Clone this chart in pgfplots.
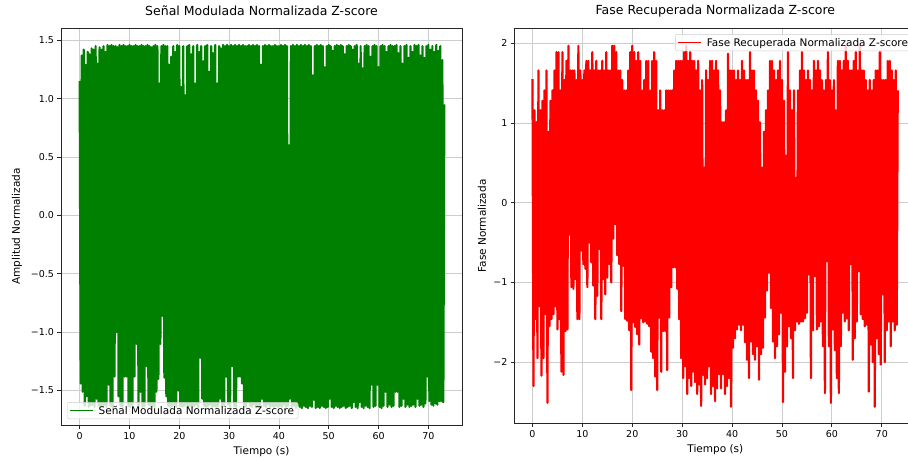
\documentclass[border=0pt]{standalone}
\usepackage{fontspec}
\setmainfont{DejaVu Sans}
\usepackage{pgfplots}
\pgfplotsset{compat=1.18}
\definecolor{mplgreen}{RGB}{0,128,0}
\definecolor{mplred}{RGB}{255,0,0}
\definecolor{gridgray}{RGB}{205,205,205}
\pgfplotsset{
  sigaxis/.style={
    scale only axis,
    anchor=south west,
    tick pos=left,
    tick align=outside,
    major tick length=3.5pt,
    grid=major,
    major grid style={gridgray, line width=0.8pt},
    axis line style={black!85, line width=0.8pt},
    tick style={black!85, line width=0.8pt},
    ticklabel style={font=\fontsize{9.5}{11}\selectfont},
    label style={font=\fontsize{10.5}{12}\selectfont},
    title style={font=\fontsize{12.5}{14}\selectfont, at={(axis description cs:0.5,1.029)}, anchor=center},
    xlabel style={at={(axis description cs:0.5,-0.067)}, anchor=center},
    xtick={0,10,20,30,40,50,60,70},
    xticklabels={0,10,20,30,40,50,60,70},
    legend style={font=\fontsize{10.5}{12}\selectfont, draw=black!20, fill=white,
      fill opacity=0.8, text opacity=1, draw opacity=1, rounded corners=2pt,
      inner xsep=2pt, inner ysep=1pt, cells={anchor=west}},
    legend image code/.code={\draw[#1, line width=1.5pt] (0pt,0pt) -- (23pt,0pt);},
  },
}
\newcommand{\legstrut}{\rule[-4pt]{0pt}{13pt}\hspace{3pt}}

\begin{document}
\begin{tikzpicture}
\fill[white] (0,0) rectangle (908pt,459pt);
\begin{scope}
\clip (0,0) rectangle (908pt,459pt);

% left: modulated signal
\begin{axis}[sigaxis,
  at={(61pt,34pt)}, width=401pt, height=397pt,
  xmin=-3.75, xmax=76.75, ymin=-1.795, ymax=1.605,
  ytick={-1.5,-1,-0.5,0,0.5,1,1.5},
  yticklabels={−1.5,−1.0,−0.5,0.0,0.5,1.0,1.5},
  title={Señal Modulada Normalizada Z-score},
  xlabel={Tiempo (s)},
  ylabel={Amplitud Normalizada},
  ylabel style={at={(axis description cs:-0.110,0.5)}, anchor=center},
  legend style={at={(axis description cs:0.015,0.015)}, anchor=south west},
]
\addplot[mplgreen, line width=2.2pt, line join=round, no markers] coordinates {
(0,1.15)(0.2,-1.44)(0.4,1.37)(0.6,-1.51)(0.8,1.42)(1,-1.63)(1.2,1.29)(1.4,-1.55)(1.6,1.40)(1.8,-1.64)
(2,1.38)(2.2,-1.63)(2.4,1.43)(2.6,-1.62)(2.8,1.42)(3,-1.64)(3.2,1.45)(3.4,-1.57)(3.6,1.30)(3.8,-1.63)
(4,1.44)(4.2,-1.64)(4.4,1.42)(4.6,-1.63)(4.8,1.45)(5,-1.62)(5.2,1.40)(5.4,-1.64)(5.6,1.46)(5.8,-1.45)
(6,1.45)(6.2,-1.63)(6.4,1.46)(6.6,-1.64)(6.8,1.45)(7,-1.38)(7.2,1.45)(7.4,-1.00)(7.6,1.44)(7.8,-1.55)
(8,1.46)(8.2,-1.63)(8.4,1.45)(8.6,-1.64)(8.8,1.46)(9,-1.38)(9.2,1.45)(9.4,-1.38)(9.6,1.45)(9.8,-1.63)
(10,1.46)(10.2,-1.64)(10.4,1.45)(10.6,-1.62)(10.8,1.45)(11,-1.38)(11.2,1.46)(11.4,-1.10)(11.6,1.45)(11.8,-1.63)
(12,1.45)(12.2,-1.51)(12.4,1.46)(12.6,-1.64)(12.8,1.45)(13,-1.63)(13.2,1.45)(13.4,-1.29)(13.6,1.46)(13.8,-1.62)
(14,1.45)(14.2,-1.64)(14.4,1.44)(14.6,-1.63)(14.8,1.45)(15,-1.64)(15.2,1.46)(15.4,-1.51)(15.6,1.45)(15.8,-1.40)
(16,1.13)(16.2,-1.10)(16.4,1.45)(16.6,-0.86)(16.8,1.46)(17,-1.39)(17.2,1.45)(17.4,-1.55)(17.6,1.45)(17.8,-1.63)
(18,1.29)(18.2,-1.64)(18.4,1.36)(18.6,-1.63)(18.8,1.45)(19,-1.62)(19.2,1.40)(19.4,-1.64)(19.6,1.46)(19.8,-1.50)
(20,1.45)(20.2,-1.63)(20.4,1.10)(20.6,-1.64)(20.8,1.45)(21,-1.63)(21.2,1.03)(21.4,-1.62)(21.6,1.45)(21.8,-1.64)
(22,1.46)(22.2,-1.63)(22.4,1.38)(22.6,-1.64)(22.8,1.45)(23,-1.63)(23.2,1.13)(23.4,-1.62)(23.6,1.46)(23.8,-1.64)
(24,1.40)(24.2,-1.22)(24.4,1.45)(24.6,-1.57)(24.8,1.32)(25,-1.63)(25.2,1.45)(25.4,-1.64)(25.6,1.46)(25.8,-1.63)
(26,1.23)(26.2,-1.62)(26.4,1.45)(26.6,-1.64)(26.8,1.39)(27,-1.63)(27.2,1.46)(27.4,-1.64)(27.6,1.13)(27.8,-1.63)
(28,1.45)(28.2,-1.57)(28.4,1.43)(28.6,-1.64)(28.8,1.46)(29,-1.63)(29.2,1.45)(29.4,-1.38)(29.6,1.46)(29.8,-1.62)
(30,1.45)(30.2,-1.64)(30.4,1.46)(30.6,-1.29)(30.8,1.45)(31,-1.63)(31.2,1.46)(31.4,-1.64)(31.6,1.45)(31.8,-1.38)
(32,1.46)(32.2,-1.38)(32.4,1.45)(32.6,-1.44)(32.8,1.46)(33,-1.63)(33.2,1.45)(33.4,-1.64)(33.6,1.45)(33.8,-1.60)
(34,1.46)(34.2,-1.63)(34.4,1.45)(34.6,-1.64)(34.8,1.46)(35,-1.62)(35.2,1.45)(35.4,-1.64)(35.6,1.46)(35.8,-1.63)
(36,1.45)(36.2,-1.64)(36.4,1.29)(36.6,-1.57)(36.8,1.45)(37,-1.63)(37.2,1.46)(37.4,-1.64)(37.6,1.45)(37.8,-1.62)
(38,1.46)(38.2,-1.64)(38.4,1.45)(38.6,-1.63)(38.8,1.45)(39,-1.64)(39.2,1.46)(39.4,-1.63)(39.6,1.45)(39.8,-1.64)
(40,1.45)(40.2,-1.63)(40.4,1.46)(40.6,-1.64)(40.8,1.45)(41,-1.62)(41.2,1.46)(41.4,-1.64)(41.6,1.45)(41.8,-1.63)
(42,0.60)(42.2,-1.57)(42.4,1.45)(42.6,-1.64)(42.8,1.46)(43,-1.63)(43.2,1.45)(43.4,-1.65)(43.6,1.46)(43.8,-1.63)
(44,1.45)(44.2,-1.64)(44.4,1.46)(44.6,-1.65)(44.8,1.45)(45,-1.63)(45.2,1.46)(45.4,-1.64)(45.6,1.45)(45.8,-1.65)
(46,1.46)(46.2,-1.63)(46.4,1.45)(46.6,-1.64)(46.8,1.20)(47,-1.58)(47.2,1.45)(47.4,-1.65)(47.6,1.46)(47.8,-1.64)
(48,1.45)(48.2,-1.65)(48.4,1.46)(48.6,-1.63)(48.8,1.45)(49,-1.64)(49.2,1.27)(49.4,-1.65)(49.6,1.45)(49.8,-1.64)
(50,1.46)(50.2,-1.57)(50.4,1.45)(50.6,-1.64)(50.8,1.41)(51,-1.65)(51.2,1.45)(51.4,-1.63)(51.6,1.46)(51.8,-1.64)
(52,1.45)(52.2,-1.65)(52.4,1.46)(52.6,-1.64)(52.8,1.45)(53,-1.63)(53.2,1.38)(53.4,-1.65)(53.6,1.45)(53.8,-1.64)
(54,1.46)(54.2,-1.63)(54.4,1.45)(54.6,-1.65)(54.8,1.42)(55,-1.60)(55.2,1.45)(55.4,-1.64)(55.6,1.46)(55.8,-1.65)
(56,1.30)(56.2,-1.60)(56.4,1.45)(56.6,-1.64)(56.8,1.26)(57,-1.65)(57.2,1.45)(57.4,-1.63)(57.6,1.46)(57.8,-1.64)
(58,1.45)(58.2,-1.65)(58.4,1.36)(58.6,-1.45)(58.8,1.45)(59,-1.64)(59.2,1.46)(59.4,-1.63)(59.6,1.45)(59.8,-1.45)
(60,1.27)(60.2,-1.64)(60.4,1.45)(60.6,-1.65)(60.8,1.46)(61,-1.63)(61.2,1.45)(61.4,-1.51)(61.6,1.40)(61.8,-1.64)
(62,1.45)(62.2,-1.62)(62.4,1.46)(62.6,-1.64)(62.8,1.45)(63,-1.63)(63.2,1.45)(63.4,-1.51)(63.6,1.46)(63.8,-1.51)
(64,1.39)(64.2,-1.64)(64.4,1.45)(64.6,-1.63)(64.8,1.30)(65,-1.57)(65.2,1.45)(65.4,-1.64)(65.6,1.46)(65.8,-1.62)
(66,1.35)(66.2,-1.64)(66.4,1.45)(66.6,-1.63)(66.8,1.40)(67,-1.62)(67.2,1.46)(67.4,-1.64)(67.6,1.45)(67.8,-1.57)
(68,1.46)(68.2,-1.63)(68.4,1.37)(68.6,-1.62)(68.8,1.45)(69,-1.64)(69.2,1.35)(69.4,-1.61)(69.6,1.45)(69.8,-1.38)
(70,1.46)(70.2,-1.59)(70.4,1.42)(70.6,-1.62)(70.8,1.45)(71,-1.63)(71.2,1.40)(71.4,-1.61)(71.6,1.46)(71.8,-1.62)
(72,1.41)(72.2,-1.59)(72.4,1.45)(72.6,-1.59)(72.8,1.33)(73,-1.60)(73.2,0.95)
};
\addlegendentry{\legstrut Señal Modulada Normalizada Z-score}
\end{axis}

% right: recovered phase
\begin{axis}[sigaxis,
  at={(514.5pt,35.5pt)}, width=401.7pt, height=395.3pt,
  xmin=-3.6, xmax=76.9, ymin=-2.77, ymax=2.19,
  ytick={-2,-1,0,1,2},
  yticklabels={−2,−1,0,1,2},
  title={Fase Recuperada Normalizada Z-score},
  xlabel={Tiempo (s)},
  ylabel={Fase Normalizada},
  ylabel style={at={(axis description cs:-0.081,0.5)}, anchor=center},
  legend style={at={(axis description cs:0.99,0.985)}, anchor=north east},
]
\addplot[mplred, line width=2.2pt, line join=round, no markers] coordinates {
(0,1.55)(0.2,-2.30)(0.4,1.16)(0.6,-1.46)(0.8,1.01)(1,-1.95)(1.2,1.66)(1.4,-1.30)(1.6,1.16)(1.8,-2.17)
(2,1.28)(2.2,-1.95)(2.4,1.41)(2.6,-1.40)(2.8,1.66)(3,-2.51)(3.2,0.89)(3.4,-1.55)(3.6,1.28)(3.8,-1.46)
(4,1.41)(4.2,-1.40)(4.4,1.66)(4.6,-1.30)(4.8,1.89)(5,-1.59)(5.2,1.89)(5.4,-1.46)(5.6,1.41)(5.8,-2.12)
(6,1.89)(6.2,-2.16)(6.4,1.54)(6.6,-1.61)(6.8,1.78)(7,-1.59)(7.2,1.97)(7.4,-0.40)(7.6,1.66)(7.8,-1.06)
(8,1.66)(8.2,-1.08)(8.4,1.66)(8.6,-0.96)(8.8,1.54)(9,-1.46)(9.2,1.97)(9.4,-1.46)(9.6,1.66)(9.8,-0.60)
(10,1.54)(10.2,-0.77)(10.4,1.66)(10.6,-0.83)(10.8,1.78)(11,-1.06)(11.2,1.78)(11.4,-0.50)(11.6,1.66)(11.8,-0.75)
(12,1.89)(12.2,-1.04)(12.4,1.66)(12.6,-1.46)(12.8,1.78)(13,-1.17)(13.2,1.66)(13.4,-0.58)(13.6,1.66)(13.8,-1.46)
(14,1.78)(14.2,-0.96)(14.4,1.66)(14.6,-1.15)(14.8,1.89)(15,-0.94)(15.2,1.66)(15.4,-0.77)(15.6,1.66)(15.8,-1.00)
(16,1.97)(16.2,-0.45)(16.4,1.97)(16.6,-0.27)(16.8,1.89)(17,-0.66)(17.2,1.66)(17.4,-0.77)(17.6,1.66)(17.8,-1.36)
(18,1.54)(18.2,-0.79)(18.4,1.41)(18.6,-1.46)(18.8,1.41)(19,-1.48)(19.2,1.66)(19.4,-1.60)(19.6,1.89)(19.8,-2.35)
(20,1.97)(20.2,-1.50)(20.4,1.89)(20.6,-1.56)(20.8,1.78)(21,-1.65)(21.2,1.89)(21.4,-1.78)(21.6,1.78)(21.8,-1.45)
(22,1.41)(22.2,-1.50)(22.4,1.54)(22.6,-1.49)(22.8,1.78)(23,-1.52)(23.2,1.78)(23.4,-1.55)(23.6,1.41)(23.8,-1.87)
(24,1.78)(24.2,-1.95)(24.4,1.89)(24.6,-2.18)(24.8,1.78)(25,-2.35)(25.2,1.16)(25.4,-1.44)(25.6,1.41)(25.8,-2.12)
(26,1.16)(26.2,-1.61)(26.4,1.16)(26.6,-1.61)(26.8,1.41)(27,-2.10)(27.2,1.41)(27.4,-1.44)(27.6,1.41)(27.8,-1.06)
(28,1.41)(28.2,-0.81)(28.4,1.66)(28.6,-0.81)(28.8,1.78)(29,-1.08)(29.2,1.78)(29.4,-1.46)(29.6,1.78)(29.8,-1.95)
(30,1.78)(30.2,-2.20)(30.4,1.89)(30.6,-2.05)(30.8,1.97)(31,-2.40)(31.2,1.78)(31.4,-2.20)(31.6,1.89)(31.8,-2.30)
(32,1.78)(32.2,-2.12)(32.4,1.78)(32.6,-2.25)(32.8,1.66)(33,-2.40)(33.2,1.78)(33.4,-2.28)(33.6,1.41)(33.8,-2.55)
(34,1.54)(34.2,-2.16)(34.4,0.44)(34.6,-2.28)(34.8,1.66)(35,-2.20)(35.2,1.54)(35.4,-2.05)(35.6,1.78)(35.8,-2.40)
(36,1.78)(36.2,-2.30)(36.4,1.66)(36.6,-2.49)(36.8,1.78)(37,-2.33)(37.2,1.66)(37.4,-2.15)(37.6,1.41)(37.8,-2.33)
(38,1.01)(38.2,-2.15)(38.4,1.01)(38.6,-2.40)(38.8,1.16)(39,-2.30)(39.2,1.87)(39.4,-2.20)(39.6,1.66)(39.8,-2.56)
(40,1.66)(40.2,-1.82)(40.4,1.66)(40.6,-1.70)(40.8,1.54)(41,-1.59)(41.2,1.66)(41.4,-1.53)(41.6,1.54)(41.8,-1.60)
(42,1.78)(42.2,-1.53)(42.4,1.66)(42.6,-1.75)(42.8,1.54)(43,-1.97)(43.2,1.54)(43.4,-2.20)(43.6,1.89)(43.8,-1.74)
(44,1.66)(44.2,-1.90)(44.4,1.66)(44.6,-1.97)(44.8,1.41)(45,-1.80)(45.2,1.28)(45.4,-2.22)(45.6,1.01)(45.8,-1.90)
(46,0.44)(46.2,-1.82)(46.4,0.89)(46.6,-1.44)(46.8,1.16)(47,-1.10)(47.2,1.41)(47.4,-0.88)(47.6,1.78)(47.8,-1.32)
(48,1.78)(48.2,-1.74)(48.4,1.66)(48.6,-1.95)(48.8,1.54)(49,-1.80)(49.2,1.66)(49.4,-1.65)(49.6,1.78)(49.8,-1.38)
(50,1.54)(50.2,-2.50)(50.4,1.28)(50.6,-2.12)(50.8,0.59)(51,-1.80)(51.2,1.89)(51.4,-1.55)(51.6,1.41)(51.8,-1.70)
(52,1.16)(52.2,-2.20)(52.4,1.41)(52.6,-1.60)(52.8,0.31)(53,-1.49)(53.2,1.41)(53.4,-1.52)(53.6,1.66)(53.8,-1.49)
(54,1.89)(54.2,-1.49)(54.4,1.66)(54.6,-1.45)(54.8,1.54)(55,-1.38)(55.2,1.66)(55.4,-0.90)(55.6,1.54)(55.8,-2.20)
(56,1.41)(56.2,-1.60)(56.4,1.78)(56.6,-0.92)(56.8,1.66)(57,-1.59)(57.2,1.78)(57.4,-1.55)(57.6,1.66)(57.8,-1.49)
(58,1.54)(58.2,-1.80)(58.4,1.41)(58.6,-2.39)(58.8,1.54)(59,-0.73)(59.2,1.89)(59.4,-1.80)(59.6,1.54)(59.8,-2.51)
(60,1.41)(60.2,-1.59)(60.4,1.54)(60.6,-1.85)(60.8,1.16)(61,-2.20)(61.2,1.78)(61.4,-2.39)(61.6,1.78)(61.8,-1.80)
(62,1.66)(62.2,-1.38)(62.4,1.78)(62.6,-1.49)(62.8,1.97)(63,-1.45)(63.2,1.78)(63.4,-1.60)(63.6,1.66)(63.8,-0.77)
(64,1.66)(64.2,-1.97)(64.4,1.78)(64.6,-1.70)(64.8,1.89)(65,-1.49)(65.2,1.66)(65.4,-0.86)(65.6,1.97)(65.8,-1.40)
(66,1.66)(66.2,-1.46)(66.4,1.66)(66.6,-1.55)(66.8,1.54)(67,-1.53)(67.2,1.41)(67.4,-2.37)(67.6,1.54)(67.8,-1.78)
(68,1.41)(68.2,-2.00)(68.4,1.54)(68.6,-2.56)(68.8,1.66)(69,-1.70)(69.2,1.66)(69.4,-1.90)(69.6,1.89)(69.8,-2.03)
(70,1.54)(70.2,-1.15)(70.4,1.54)(70.6,-2.00)(70.8,1.54)(71,-1.60)(71.2,1.78)(71.4,-1.49)(71.6,1.78)(71.8,-1.80)
(72,1.66)(72.2,-1.49)(72.4,1.54)(72.6,-1.60)(72.8,1.66)(73,-1.53)(73.2,1.41)
};
\addlegendentry{\legstrut Fase Recuperada Normalizada Z-score}
\end{axis}
\end{scope}
\pgfresetboundingbox
\useasboundingbox (0,0) rectangle (908pt,459pt);
\end{tikzpicture}
\end{document}
